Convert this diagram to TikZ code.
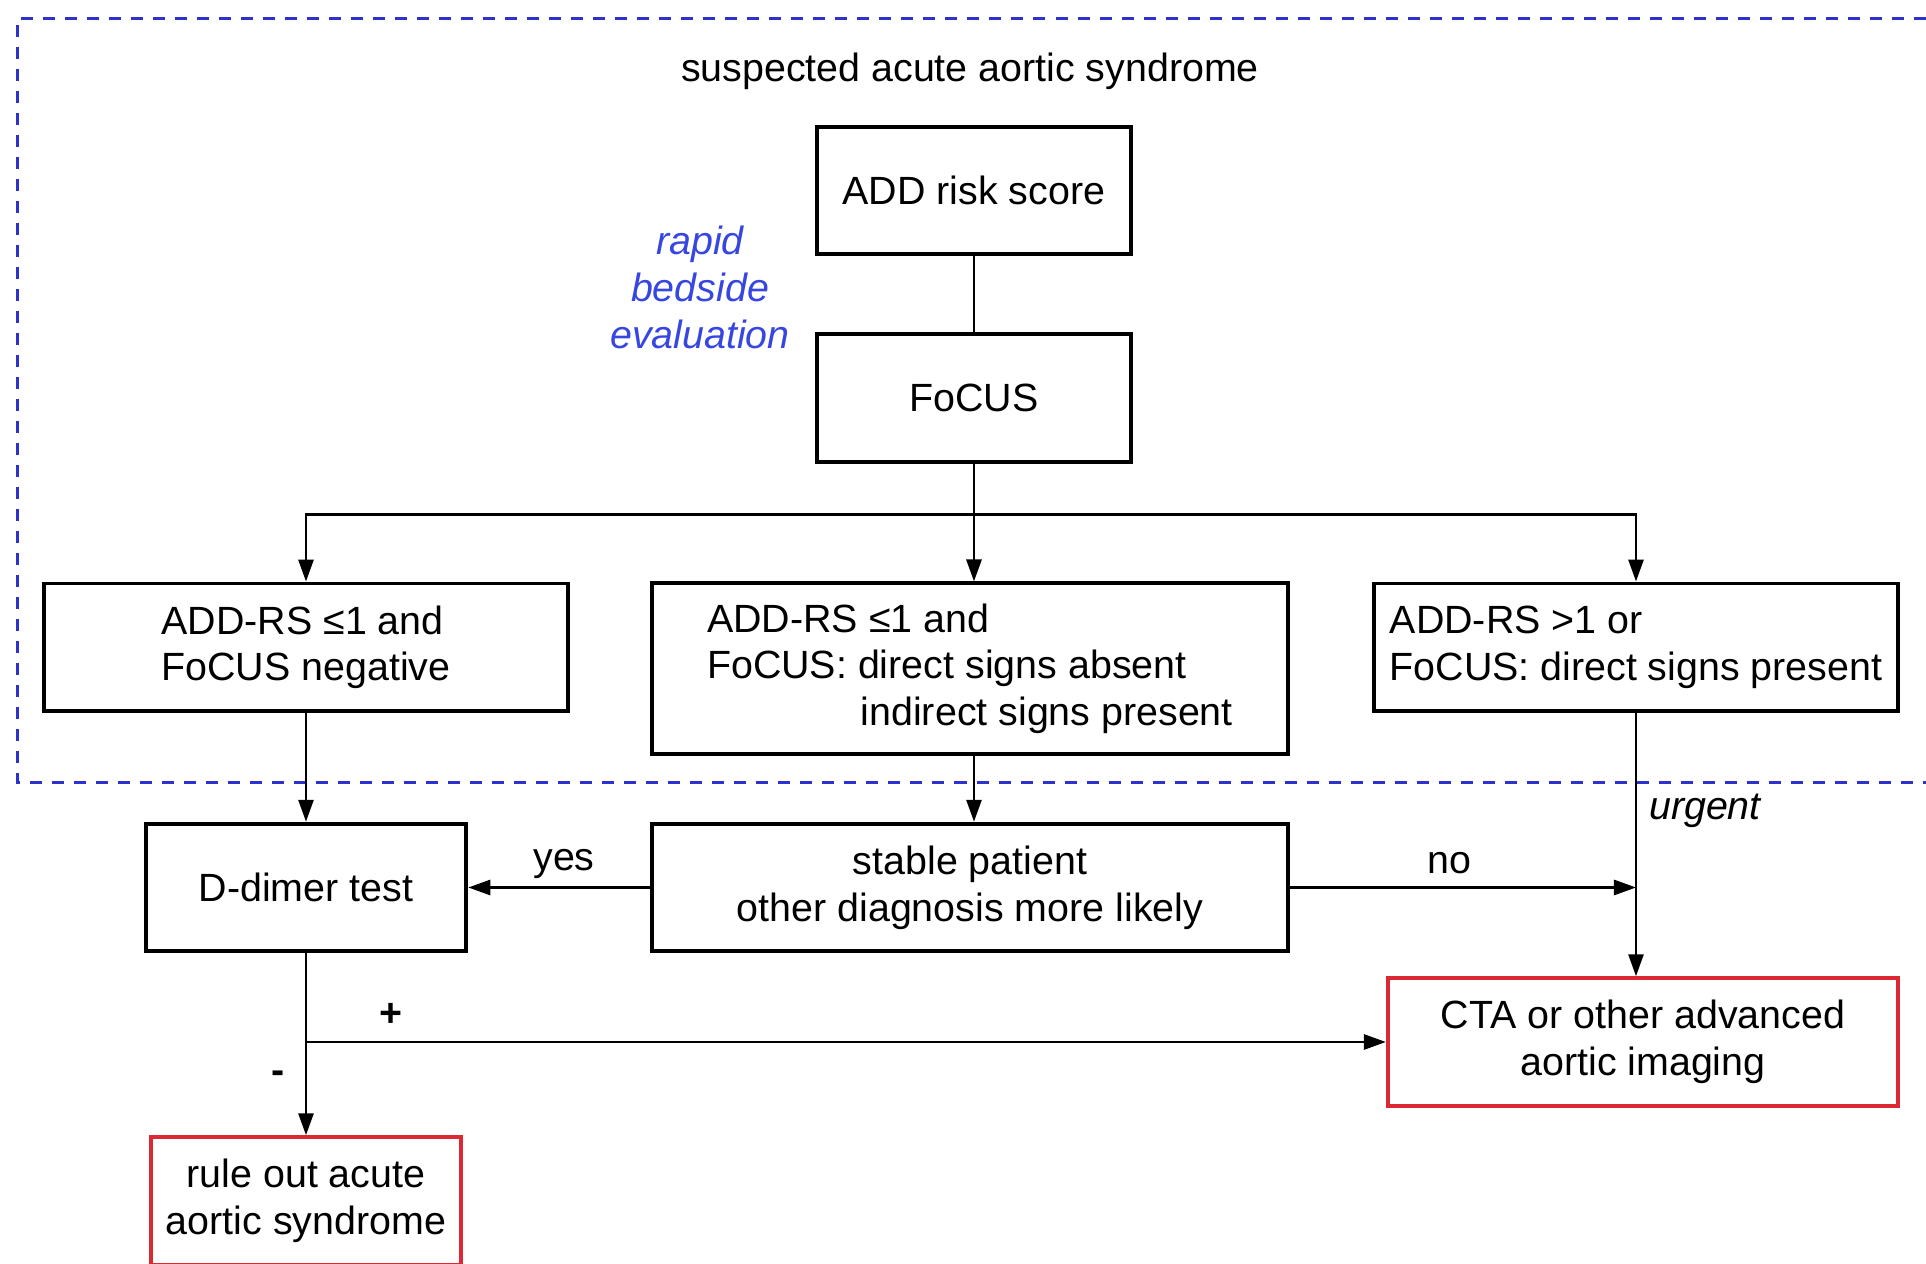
\documentclass[tikz,border=0pt]{standalone}
\usepackage{fontspec}
\setmainfont{Liberation Sans}
\usetikzlibrary{arrows.meta}
\definecolor{frameblue}{RGB}{45,50,205}
\definecolor{noteblue}{RGB}{55,70,225}
\definecolor{boxred}{RGB}{220,40,50}

\begin{document}
\begin{tikzpicture}[x=0.01cm,y=-0.01cm,
  font=\fontsize{11.2}{13.3}\selectfont,
  box/.style={draw=black,line width=1.1pt,inner sep=0pt,minimum height=1.275cm},
  endbox/.style={box,draw=boxred},
  note/.style={font=\fontsize{11.2}{13.3}\selectfont\itshape},
  link/.style={line width=0.8pt},
  arr/.style={link,-{Triangle[length=0.22cm,width=0.15cm]}}]
\useasboundingbox (0,0) rectangle (1926,1264);
% bedside part
\draw [frameblue,line width=0.9pt,dash pattern=on 0.12cm off 0.1cm] (1926,18.4) -- (17.2,18.4) -- (17.2,782.4) -- (1926,782.4);
\node (title) at (970,71) {suspected acute aortic syndrome};
\node [box,minimum width=3.13cm] (add) at (974,190.5) {ADD risk score};
\node [box,minimum width=3.13cm] (focus) at (974,398) {FoCUS};
\node [note,noteblue,align=center] (rapid) at (700,287.4) {rapid\\bedside\\evaluation};
\node [box,minimum width=5.235cm,align=left] (lowA) at (306,647.3) {ADD-RS ≤1 and\\FoCUS negative};
\node [box,minimum width=6.35cm,minimum height=1.707cm,align=left] (midB) at (970,668.8) {ADD-RS ≤1 and\\FoCUS: direct signs absent\\\hspace*{1.535cm}indirect signs present};
\node [box,minimum width=5.235cm,align=left] (highC) at (1636,647.3) {ADD-RS >1 or\\FoCUS: direct signs present};
% next steps
\node [box,minimum width=3.205cm] (ddimer) at (306,887.5) {D-dimer test};
\node [box,minimum width=6.35cm,align=center] (stable) at (970,887.5) {stable patient\\other diagnosis more likely};
\node [endbox,minimum width=5.10cm,align=center] (cta) at (1643,1042) {CTA or other advanced\\aortic imaging};
\node [endbox,minimum width=3.10cm,align=center] (ruleout) at (306,1201) {rule out acute\\aortic syndrome};
% connectors
\coordinate (split) at (974,514.7);
\draw [link] (add) -- (focus);
\draw [arr] (focus) -- (focus.south |- midB.north);
\draw [arr] (split) -| (lowA);
\draw [arr] (split) -| (highC);
\draw [arr] (lowA) -- (ddimer);
\draw [arr] (focus.south |- midB.south) -- (focus.south |- stable.north);
\draw [arr] (stable) -- (ddimer);
\draw [arr] (stable) -- (stable.east -| highC.south);
\draw [arr] (highC) -- (highC.south |- cta.north);
\draw [arr] (ddimer) -- (ruleout);
\draw [arr] (ddimer.south |- cta.west) -- (cta);
% labels
\node (yes) at (564,863.5) {yes};
\node (no) at (1449,863.5) {no};
\node [note] (urgent) at (1705,810.7) {urgent};
\node (plus) at (390.6,1014.6) {\textbf{+}};
\node (minus) at (277.6,1077) {\textbf{-}};
\end{tikzpicture}
\end{document}
